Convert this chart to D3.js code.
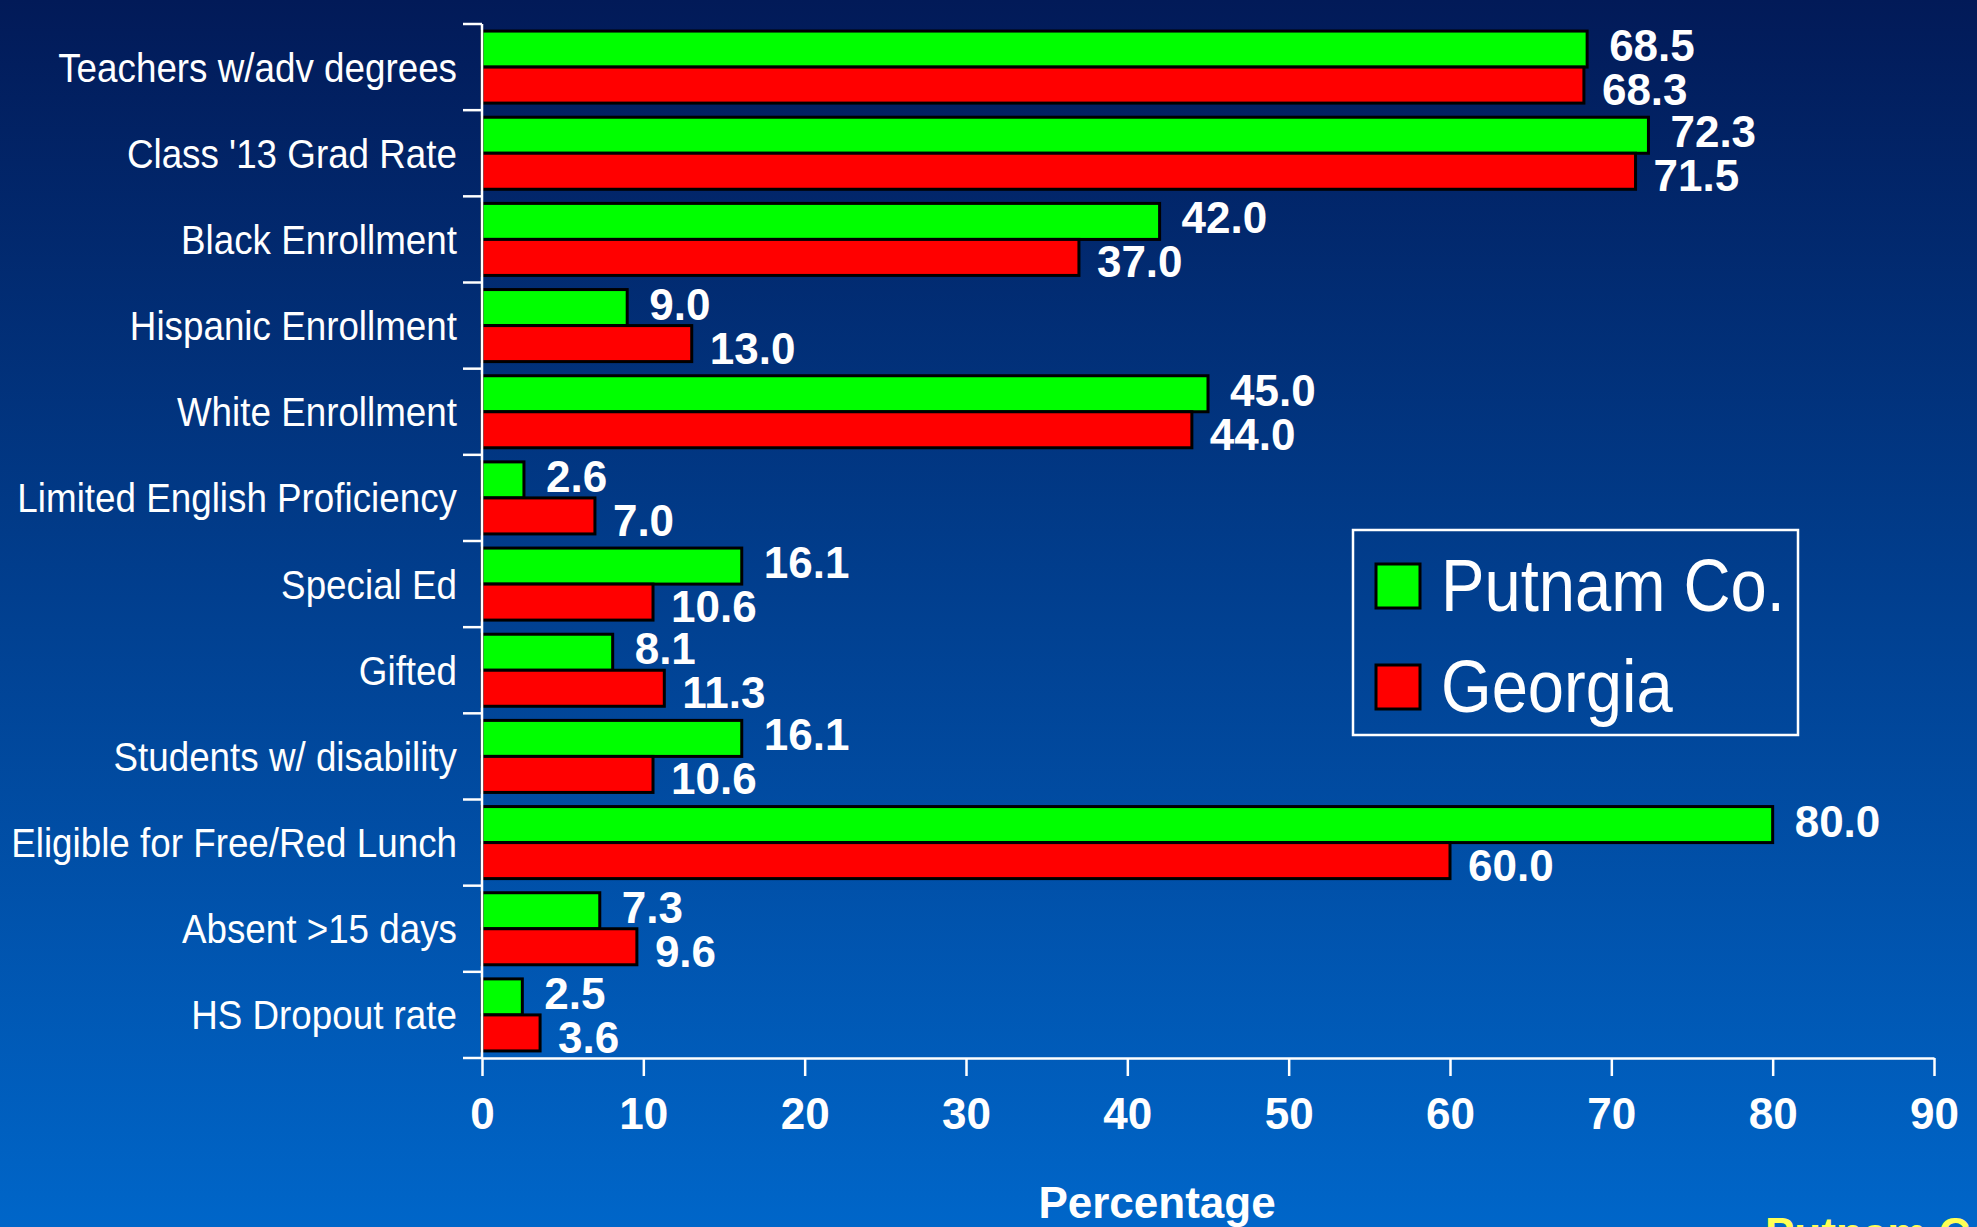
<!DOCTYPE html>
<html>
<head>
<meta charset="utf-8">
<script src="https://cdn.jsdelivr.net/npm/d3@7"></script>
<style>
  body { margin: 0; background: #02205f; }
  svg { display: block; }
  text { font-family: "Liberation Sans", Arial, sans-serif; fill: #fff; }
</style>
</head>
<body>
<svg id="chart" width="1977" height="1227"></svg>
<script>
const categories = [
  "Teachers w/adv degrees",
  "Class '13 Grad Rate",
  "Black Enrollment",
  "Hispanic Enrollment",
  "White Enrollment",
  "Limited English Proficiency",
  "Special Ed",
  "Gifted",
  "Students w/ disability",
  "Eligible for Free/Red Lunch",
  "Absent >15 days",
  "HS Dropout rate",
];
const putnamValues = [68.5, 72.3, 42.0, 9.0, 45.0, 2.6, 16.1, 8.1, 16.1, 80.0, 7.3, 2.5];
const georgiaValues = [68.3, 71.5, 37.0, 13.0, 44.0, 7.0, 10.6, 11.3, 10.6, 60.0, 9.6, 3.6];
const seriesNames = ["Putnam Co.", "Georgia"];
const seriesColors = ["#00ff00", "#ff0000"];
const xTicks = [0, 10, 20, 30, 40, 50, 60, 70, 80, 90];

const svg = d3.select("#chart");
const width = +svg.attr("width");
const height = +svg.attr("height");

// background gradient, dark navy to bright blue
const grad = svg.append("defs").append("linearGradient")
  .attr("id", "bg").attr("x1", 0).attr("y1", 0).attr("x2", 0).attr("y2", 1);
grad.append("stop").attr("offset", "0%").attr("stop-color", "#021a58");
grad.append("stop").attr("offset", "100%").attr("stop-color", "#0066c9");
svg.append("rect").attr("width", width).attr("height", height).attr("fill", "url(#bg)");

const plot = { left: 482, right: 1934, top: 24, bottom: 1058 };

const x = d3.scaleLinear().domain([0, 90]).range([plot.left, plot.right]);
const y = d3.scaleBand()
  .domain(categories)
  .range([plot.top, plot.bottom])
  .paddingInner(0.164)
  .paddingOuter(0.082);
const ySeries = d3.scaleBand().domain(seriesNames).range([0, y.bandwidth()]);

const rows = categories.map((c, i) => ({ cat: c, vals: [putnamValues[i], georgiaValues[i]] }));
const fmt = d3.format(".1f");

// bars
const rowG = svg.append("g").selectAll("g")
  .data(rows)
  .join("g")
  .attr("transform", (d) => `translate(0,${y(d.cat)})`);

rowG.selectAll("rect")
  .data((d) => d.vals.map((v, i) => ({ v, s: seriesNames[i], i })))
  .join("rect")
  .attr("x", x(0))
  .attr("y", (d) => ySeries(d.s))
  .attr("width", (d) => x(d.v) - x(0))
  .attr("height", ySeries.bandwidth())
  .attr("fill", (d) => seriesColors[d.i])
  .attr("stroke", "#000")
  .attr("stroke-width", 3);

// value labels
rowG.selectAll("text.val")
  .data((d) => d.vals.map((v, i) => ({ v, s: seriesNames[i], i })))
  .join("text")
  .attr("class", "val")
  .attr("x", (d) => x(d.v) + (d.i === 0 ? 22 : 18))
  .attr("y", (d) => ySeries(d.s) + ySeries.bandwidth() / 2 + 16 + (d.i === 0 ? -4 : 4))
  .attr("font-size", 44)
  .attr("font-weight", "bold")
  .text((d) => fmt(d.v));

// y axis: line plus ticks at band boundaries
const gap = (y.step() - y.bandwidth()) / 2;
const boundaries = categories.map((c) => y(c) - gap).concat([plot.bottom]);
const axisStyle = { stroke: "#fff", "stroke-width": 2.5 };

svg.append("line")
  .attr("x1", plot.left).attr("x2", plot.left)
  .attr("y1", plot.top).attr("y2", plot.bottom)
  .attr("stroke", axisStyle.stroke).attr("stroke-width", axisStyle["stroke-width"]);

svg.append("g").selectAll("line")
  .data(boundaries)
  .join("line")
  .attr("x1", plot.left - 19).attr("x2", plot.left)
  .attr("y1", (d) => d).attr("y2", (d) => d)
  .attr("stroke", "#fff").attr("stroke-width", 2.5);

// category labels (slightly condensed)
svg.append("g").selectAll("text")
  .data(categories)
  .join("text")
  .attr("transform", (d) => `translate(457,${y(d) + y.bandwidth() / 2 + 14.5}) scale(0.92,1)`)
  .attr("text-anchor", "end")
  .attr("font-size", 40)
  .text((d) => d);

// x axis
const xAxis = svg.append("g")
  .attr("transform", `translate(0,${plot.bottom})`)
  .call(d3.axisBottom(x).tickValues(xTicks).tickSize(18).tickSizeOuter(0).tickPadding(22));
xAxis.select(".domain").attr("stroke", "#fff").attr("stroke-width", 2.5);
xAxis.selectAll(".tick line").attr("stroke", "#fff").attr("stroke-width", 2.5);
xAxis.selectAll(".tick text")
  .attr("fill", "#fff")
  .attr("font-size", 44)
  .attr("font-weight", "bold")
  .attr("font-family", "Liberation Sans, Arial, sans-serif");

svg.append("text")
  .attr("x", 1157)
  .attr("y", 1218)
  .attr("text-anchor", "middle")
  .attr("font-size", 44)
  .attr("font-weight", "bold")
  .text("Percentage");

svg.append("text")
  .attr("x", 1765)
  .attr("y", 1249)
  .attr("font-size", 44)
  .attr("font-weight", "bold")
  .style("fill", "#ffff55")
  .text("Putnam County");

// legend
const legend = svg.append("g");
legend.append("rect")
  .attr("x", 1353).attr("y", 530)
  .attr("width", 445).attr("height", 205)
  .attr("fill", "none")
  .attr("stroke", "#fff")
  .attr("stroke-width", 2.5);

const legendItem = legend.selectAll("g")
  .data(seriesNames)
  .join("g")
  .attr("transform", (d, i) => `translate(1376,${564 + i * 101})`);

legendItem.append("rect")
  .attr("width", 44).attr("height", 44)
  .attr("fill", (d, i) => seriesColors[i])
  .attr("stroke", "#000")
  .attr("stroke-width", 3);

legendItem.append("text")
  .attr("transform", "translate(65,47) scale(0.88,1)")
  .attr("font-size", 74)
  .text((d) => d);
</script>
</body>
</html>
